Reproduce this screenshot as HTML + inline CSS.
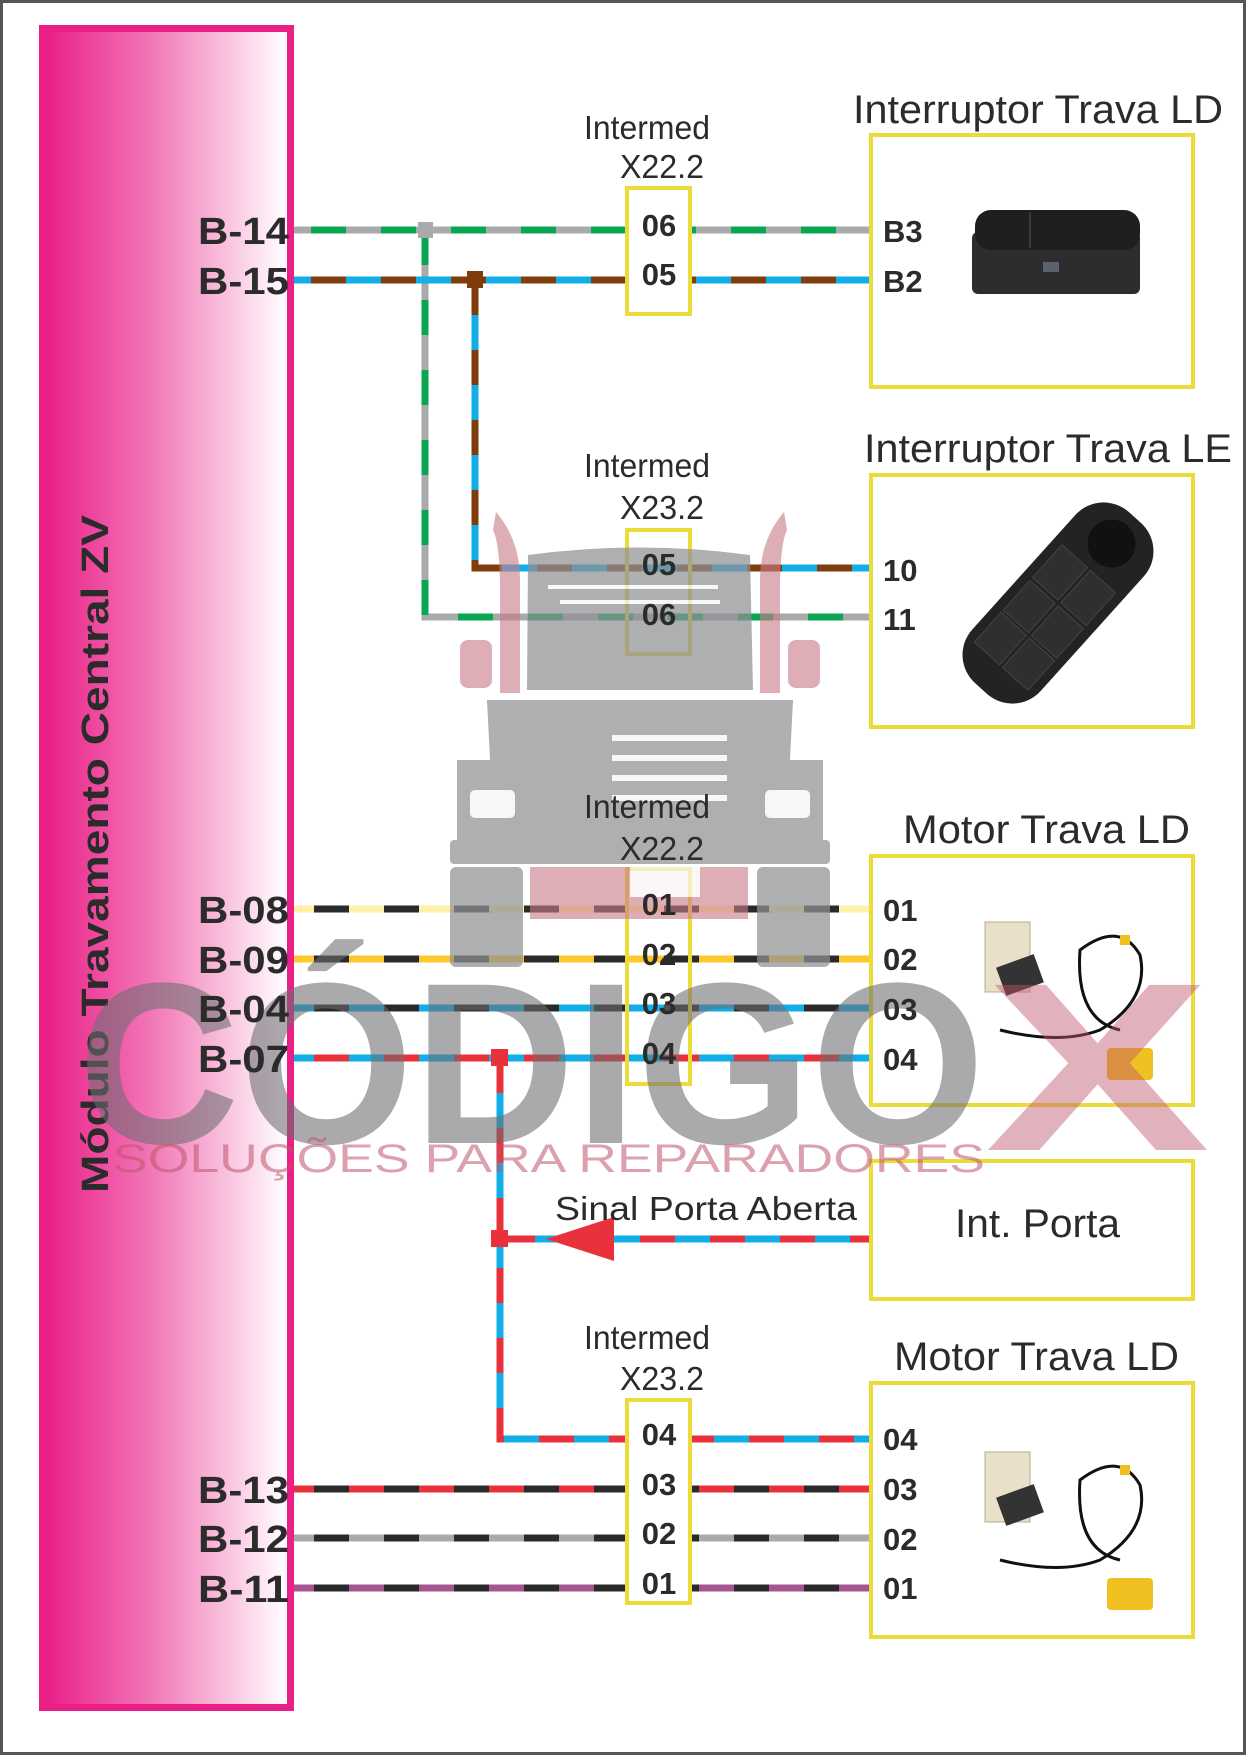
<!DOCTYPE html>
<html><head><meta charset="utf-8"><style>
html,body{margin:0;padding:0;background:#fff}
svg{display:block}
text{font-family:"Liberation Sans",sans-serif}
</style></head><body>
<svg width="1247" height="1757" viewBox="0 0 1247 1757" xmlns="http://www.w3.org/2000/svg">
<defs>
<linearGradient id="pg" x1="0" x2="1" y1="0" y2="0">
<stop offset="0" stop-color="#ea2088"/><stop offset="0.45" stop-color="#f27ab8"/><stop offset="1" stop-color="#fff"/>
</linearGradient>
</defs>
<rect x="1.5" y="1.5" width="1243" height="1752" fill="#fff" stroke="#555" stroke-width="3"/>
<rect x="39" y="25" width="255" height="1686" fill="#ea2088"/>
<rect x="47" y="32" width="240" height="1672" fill="url(#pg)"/>
<text transform="translate(108,1193) rotate(-90)" font-size="38" font-weight="bold" fill="#2b2b2b" textLength="678" lengthAdjust="spacingAndGlyphs">Módulo Travamento Central ZV</text>

<g stroke-width="7" fill="none">
<path d="M294 230H869" stroke="#a9aaab"/><path d="M294 230H869" stroke="#0aa550" stroke-dasharray="35 35" stroke-dashoffset="-17"/>
<path d="M425 230V617H869" stroke="#a9aaab"/><path d="M425 230V617H869" stroke="#0aa550" stroke-dasharray="35 35"/>
<path d="M294 280H869" stroke="#12aee8"/><path d="M294 280H869" stroke="#7f3d0c" stroke-dasharray="35 35" stroke-dashoffset="-17"/>
<path d="M475 280V568H869" stroke="#12aee8"/><path d="M475 280V568H869" stroke="#7f3d0c" stroke-dasharray="35 35"/>
<path d="M294 909H869" stroke="#fff1a8"/><path d="M294 909H869" stroke="#2a2a2a" stroke-dasharray="35 35" stroke-dashoffset="-20"/>
<path d="M294 959H869" stroke="#fdc82b"/><path d="M294 959H869" stroke="#2a2a2a" stroke-dasharray="35 35" stroke-dashoffset="-20"/>
<path d="M294 1008H869" stroke="#12aee8"/><path d="M294 1008H869" stroke="#2a2a2a" stroke-dasharray="35 35" stroke-dashoffset="-20"/>
<path d="M294 1058H869" stroke="#12aee8"/><path d="M294 1058H869" stroke="#e8313a" stroke-dasharray="35 35" stroke-dashoffset="-20"/>
<path d="M500 1058V1439H869" stroke="#12aee8"/><path d="M500 1058V1439H869" stroke="#e8313a" stroke-dasharray="35 35"/>
<path d="M500 1239H869" stroke="#12aee8"/><path d="M500 1239H869" stroke="#e8313a" stroke-dasharray="35 35"/>
<path d="M294 1489H869" stroke="#e8313a"/><path d="M294 1489H869" stroke="#2a2a2a" stroke-dasharray="35 35" stroke-dashoffset="-20"/>
<path d="M294 1538H869" stroke="#a9aaab"/><path d="M294 1538H869" stroke="#2a2a2a" stroke-dasharray="35 35" stroke-dashoffset="-20"/>
<path d="M294 1588H869" stroke="#a65592"/><path d="M294 1588H869" stroke="#2a2a2a" stroke-dasharray="35 35" stroke-dashoffset="-20"/>
</g>
<rect x="418" y="222" width="15" height="16" fill="#a9aaab"/>
<rect x="467" y="271" width="16" height="17" fill="#7f3d0c"/>
<rect x="491" y="1049" width="17" height="17" fill="#e8313a"/>
<rect x="491" y="1230" width="17" height="17" fill="#e8313a"/>
<polygon points="546,1239 614,1217 614,1261" fill="#e8313a"/>

<g fill="#fff" stroke="#ecdc3a" stroke-width="4">
<rect x="627" y="188" width="63" height="126"/>
<rect x="627" y="1400" width="63" height="203"/>
<rect x="871" y="135" width="322" height="252"/>
<rect x="871" y="475" width="322" height="252"/>
<rect x="871" y="856" width="322" height="249"/>
<rect x="871" y="1161" width="322" height="138"/>
<rect x="871" y="1383" width="322" height="254"/>
</g>
<g fill="none" stroke="#ecdc3a" stroke-width="4">
<rect x="627" y="530" width="63" height="124"/>
<rect x="627" y="869" width="63" height="215"/>
</g>

<g>
<rect x="972" y="232" width="168" height="62" rx="6" fill="#2d2d2f"/>
<rect x="975" y="210" width="165" height="40" rx="16" fill="#1f1f21"/>
<line x1="1030" y1="212" x2="1030" y2="248" stroke="#555"/>
<rect x="1043" y="262" width="16" height="10" fill="#5a6270"/>
</g>
<g transform="translate(1058,603) rotate(-48)">
<rect x="-115" y="-46" width="230" height="92" rx="38" fill="#232325"/>
<circle cx="80" cy="0" r="24" fill="#111"/>
<g fill="#2f2f31" stroke="#444"><rect x="-85" y="-36" width="40" height="34"/><rect x="-85" y="2" width="40" height="34"/><rect x="-42" y="-36" width="40" height="34"/><rect x="-42" y="2" width="40" height="34"/><rect x="2" y="-36" width="44" height="34"/><rect x="2" y="2" width="44" height="34"/></g>
</g>
<g id="m1">
<rect x="985" y="922" width="45" height="70" fill="#e8e0c8" stroke="#b8ad90"/>
<rect x="1000" y="960" width="40" height="30" fill="#333" transform="rotate(-20 1020 975)"/>
<path d="M1000 1030 Q1060 1045 1100 1030 Q1150 1000 1140 955 Q1120 920 1080 950 Q1075 1020 1120 1030" fill="none" stroke="#111" stroke-width="3"/>
<rect x="1120" y="935" width="10" height="10" fill="#f0c020"/>
<rect x="1107" y="1048" width="46" height="32" rx="4" fill="#f0c020"/>
</g>
<use href="#m1" transform="translate(0,530)"/>

<g opacity="0.72">
<g fill="#c97b89" opacity="0.85">
<path d="M496 512 Q520 540 520 580 V693 H500 V590 Q500 545 493 530Z"/>
<path d="M784 512 Q760 540 760 580 V693 H780 V590 Q780 545 787 530Z"/>
<rect x="460" y="640" width="32" height="48" rx="8"/><rect x="788" y="640" width="32" height="48" rx="8"/>
<rect x="530" y="867" width="218" height="52"/>
</g>
<g fill="#8f9194">
<path d="M528 555 Q640 540 750 555 L753 690 H527Z"/>
<path d="M487 700 H793 L790 760 H823 V840 H457 V760 H490Z"/>
<rect x="450" y="840" width="380" height="24" rx="4"/>
<rect x="450" y="867" width="73" height="100" rx="6"/><rect x="757" y="867" width="73" height="100" rx="6"/>
</g>
<g fill="#fff" opacity="0.9">
<rect x="470" y="790" width="45" height="28" rx="5"/><rect x="765" y="790" width="45" height="28" rx="5"/>
<rect x="612" y="735" width="115" height="6"/><rect x="612" y="755" width="115" height="6"/><rect x="612" y="775" width="115" height="6"/><rect x="612" y="795" width="115" height="6"/>
<rect x="548" y="585" width="170" height="4"/><rect x="560" y="600" width="160" height="4"/>
<rect x="630" y="867" width="70" height="30"/>
</g>
</g>
<text x="78" y="1143" font-size="230" font-weight="bold" fill="#6e6e72" opacity="0.58" textLength="907" lengthAdjust="spacingAndGlyphs">CÓDIGO</text>
<text x="985" y="1150" font-size="240" font-weight="bold" fill="#c0566c" opacity="0.45" textLength="225" lengthAdjust="spacingAndGlyphs">X</text>
<text x="112" y="1172" font-size="40" fill="#c0566c" opacity="0.55" textLength="873" lengthAdjust="spacingAndGlyphs">SOLUÇÕES PARA REPARADORES</text>

<g font-size="38" font-weight="bold" fill="#2b2b2b">
<text x="198" y="244" textLength="91" lengthAdjust="spacingAndGlyphs">B-14</text>
<text x="198" y="294" textLength="91" lengthAdjust="spacingAndGlyphs">B-15</text>
<text x="198" y="923" textLength="91" lengthAdjust="spacingAndGlyphs">B-08</text>
<text x="198" y="973" textLength="91" lengthAdjust="spacingAndGlyphs">B-09</text>
<text x="198" y="1022" textLength="91" lengthAdjust="spacingAndGlyphs">B-04</text>
<text x="198" y="1072" textLength="91" lengthAdjust="spacingAndGlyphs">B-07</text>
<text x="198" y="1503" textLength="91" lengthAdjust="spacingAndGlyphs">B-13</text>
<text x="198" y="1552" textLength="91" lengthAdjust="spacingAndGlyphs">B-12</text>
<text x="198" y="1602" textLength="91" lengthAdjust="spacingAndGlyphs">B-11</text>
</g>
<g font-size="31" font-weight="bold" fill="#2b2b2b" text-anchor="middle">
<text x="659" y="236">06</text><text x="659" y="285">05</text>
<text x="659" y="575">05</text><text x="659" y="625">06</text>
<text x="659" y="915">01</text><text x="659" y="965">02</text><text x="659" y="1014">03</text><text x="659" y="1064">04</text>
<text x="659" y="1445">04</text><text x="659" y="1495">03</text><text x="659" y="1544">02</text><text x="659" y="1594">01</text>
</g>
<g font-size="31" font-weight="bold" fill="#2b2b2b">
<text x="883" y="242">B3</text><text x="883" y="292">B2</text>
<text x="883" y="581">10</text><text x="883" y="630">11</text>
<text x="883" y="921">01</text><text x="883" y="970">02</text><text x="883" y="1020">03</text><text x="883" y="1070">04</text>
<text x="883" y="1450">04</text><text x="883" y="1500">03</text><text x="883" y="1550">02</text><text x="883" y="1599">01</text>
</g>
<g font-size="33" fill="#2b2b2b">
<text x="584" y="139" textLength="126" lengthAdjust="spacingAndGlyphs">Intermed</text><text x="620" y="178" textLength="84" lengthAdjust="spacingAndGlyphs">X22.2</text>
<text x="584" y="477" textLength="126" lengthAdjust="spacingAndGlyphs">Intermed</text><text x="620" y="519" textLength="84" lengthAdjust="spacingAndGlyphs">X23.2</text>
<text x="584" y="818" textLength="126" lengthAdjust="spacingAndGlyphs">Intermed</text><text x="620" y="860" textLength="84" lengthAdjust="spacingAndGlyphs">X22.2</text>
<text x="584" y="1349" textLength="126" lengthAdjust="spacingAndGlyphs">Intermed</text><text x="620" y="1390" textLength="84" lengthAdjust="spacingAndGlyphs">X23.2</text>
<text x="555" y="1220" textLength="302" lengthAdjust="spacingAndGlyphs">Sinal Porta Aberta</text>
</g>
<g font-size="40" fill="#2b2b2b">
<text x="853" y="123" textLength="370" lengthAdjust="spacingAndGlyphs">Interruptor Trava LD</text>
<text x="864" y="462" textLength="368" lengthAdjust="spacingAndGlyphs">Interruptor Trava LE</text>
<text x="903" y="843" textLength="287" lengthAdjust="spacingAndGlyphs">Motor Trava LD</text>
<text x="955" y="1237" textLength="165" lengthAdjust="spacingAndGlyphs">Int. Porta</text>
<text x="894" y="1370" textLength="285" lengthAdjust="spacingAndGlyphs">Motor Trava LD</text>
</g>
</svg>
</body></html>
